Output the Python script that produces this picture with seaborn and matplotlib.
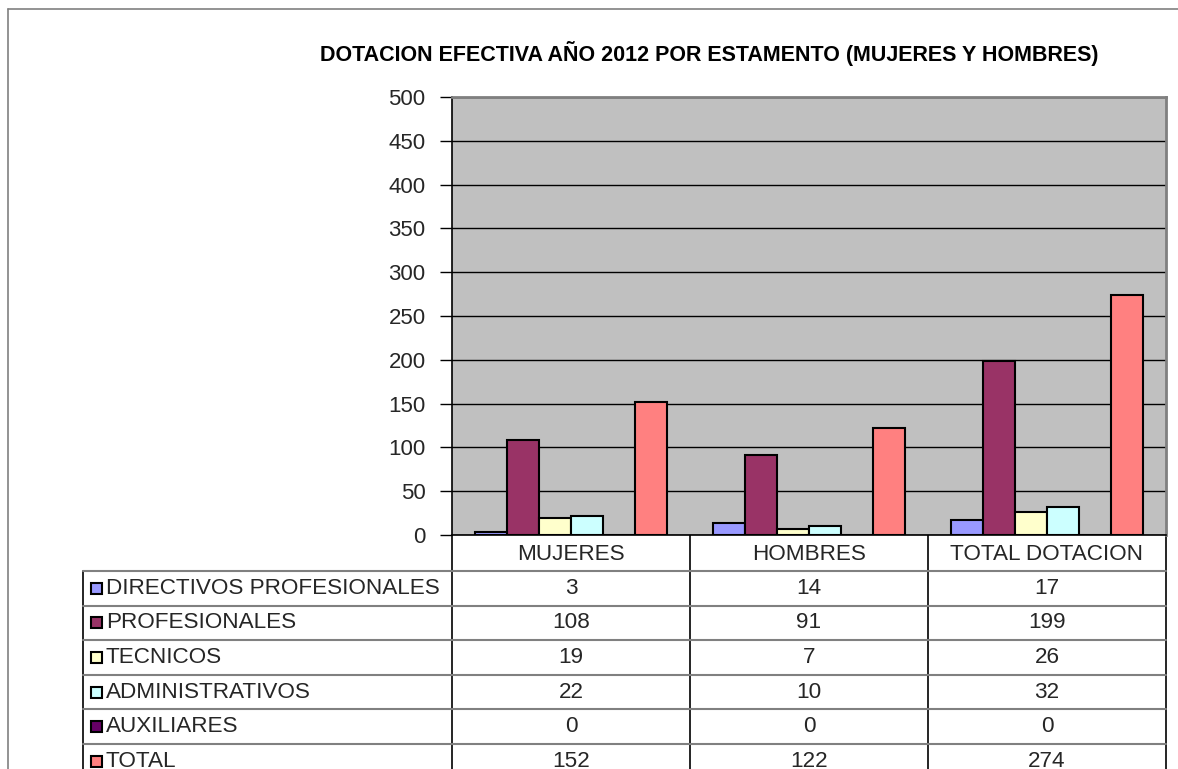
import matplotlib
matplotlib.use("Agg")
import matplotlib.pyplot as plt
import matplotlib.transforms as mtransforms
from matplotlib.patches import Rectangle
import seaborn as sns
import pandas as pd

# ---------------- data ----------------
groups = ["MUJERES", "HOMBRES", "TOTAL DOTACION"]
series = ["DIRECTIVOS PROFESIONALES", "PROFESIONALES", "TECNICOS",
          "ADMINISTRATIVOS", "AUXILIARES", "TOTAL"]
directivos = [3, 14, 17]
profesionales = [108, 91, 199]
tecnicos = [19, 7, 26]
administrativos = [22, 10, 32]
auxiliares = [0, 0, 0]
total = [152, 122, 274]
colors = ["#9999FF", "#993366", "#FFFFCC", "#CCFFFF", "#660066", "#FF8080"]
title = "DOTACION EFECTIVA AÑO 2012 POR ESTAMENTO (MUJERES Y HOMBRES)"
yticks = [0, 50, 100, 150, 200, 250, 300, 350, 400, 450, 500]

values = [directivos, profesionales, tecnicos, administrativos, auxiliares, total]
rows = []
for s, vals in zip(series, values):
    for g, v in zip(groups, vals):
        rows.append({"grupo": g, "estamento": s, "valor": v})
df = pd.DataFrame(rows)

# ---------------- figure ----------------
sns.set_style("white")
plt.rcParams["font.family"] = ["Liberation Sans", "DejaVu Sans"]

W, H = 1178, 769
fig = plt.figure(figsize=(W / 100, H / 100), dpi=100)
fig.patch.set_facecolor("white")

# overlay axes in pixel coords (for border and table)
tax = fig.add_axes([0, 0, 1, 1])
tax.set_xlim(0, W)
tax.set_ylim(H, 0)
tax.axis("off")

L, R, T, B = 452, 1166, 97, 535
ax = fig.add_axes([L / W, 1 - B / H, (R - L) / W, (B - T) / H])
ax.set_facecolor("#C0C0C0")

sns.barplot(data=df, x="grupo", y="valor", hue="estamento", order=groups,
            hue_order=series, palette=colors, edgecolor="black", linewidth=1.5,
            width=0.81, legend=False, ax=ax, saturation=1, errorbar=None)

ax.set_xlim(-0.5, len(groups) - 0.5)
ax.set_ylim(0, 500)
ax.set_yticks(yticks)
ax.set_yticklabels([str(t) for t in yticks], fontsize=16)
ax.tick_params(axis="y", length=9, width=1, pad=10, color="black", left=True)
ax.tick_params(axis="x", bottom=False, labelbottom=False)
ax.set_xlabel("")
ax.set_ylabel("")
ax.yaxis.grid(True, color="#000000", linewidth=1)
ax.set_axisbelow(True)
for side in ["left", "bottom"]:
    ax.spines[side].set_color("black")
    ax.spines[side].set_linewidth(1.2)
for side in ["top", "right"]:
    ax.spines[side].set_color("#808080")
    ax.spines[side].set_linewidth(2)

# title
fig.text(709 / W, 1 - 53 / H, title, ha="center", va="center",
         fontsize=15.5, fontweight="bold", color="black")

# figure border
tax.plot([8, 8], [9, H], color="#808080", lw=1.2)
tax.plot([8, W], [9, 9], color="#808080", lw=1.2)

# ---------------- data table ----------------
blend = mtransforms.blended_transform_factory(ax.transData, tax.transData)
header_top, header_bot = B, 571
row_h = 34.6
label_left = 83
col_edges_data = [i - 0.5 for i in range(len(groups) + 1)]

# vertical lines
for xe in col_edges_data:
    tax.plot([xe, xe], [header_top, H + 5], color="black", lw=1.2,
             transform=blend, clip_on=False)
tax.plot([label_left, label_left], [header_bot, H + 5], color="black", lw=1.2)

# header labels
for i, g in enumerate(groups):
    tax.text(i, (header_top + header_bot) / 2 + 2, g, transform=blend,
             ha="center", va="center", fontsize=16.2)

# rows
for r, (s, vals, c) in enumerate(zip(series, values, colors)):
    y0 = header_bot + r * row_h
    tax.plot([label_left, R], [y0, y0], color="#808080", lw=1.5)
    yc = y0 + row_h / 2
    tax.add_patch(Rectangle((90.5, yc - 5.5), 11, 11, facecolor=c,
                            edgecolor="black", lw=1.5))
    tax.text(106, yc, s, ha="left", va="center", fontsize=16.2)
    for i, v in enumerate(vals):
        tax.text(i, yc, str(v), transform=blend, ha="center", va="center",
                 fontsize=16.2)

fig.savefig("out.png", dpi=100)
